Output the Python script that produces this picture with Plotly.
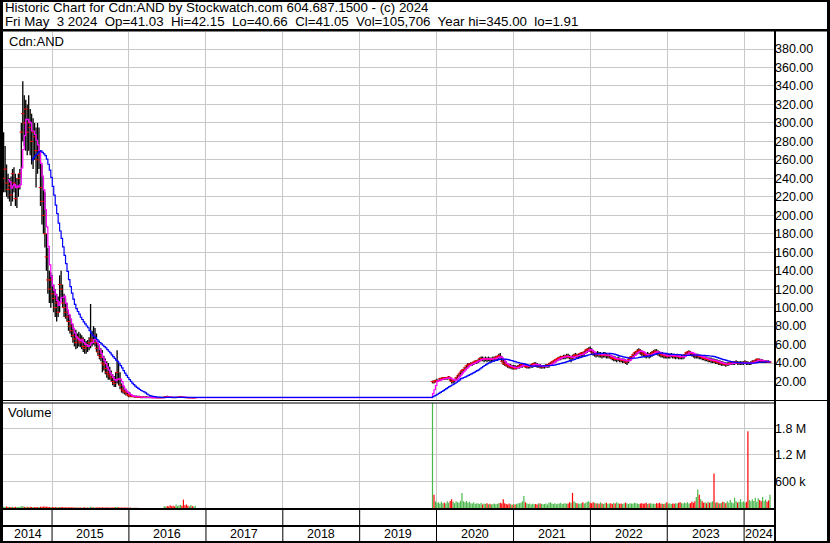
import plotly.graph_objects as go
import pandas as pd

# ---------------- data (weekly bars) ----------------
old_start = "2014-05-16"
new_start = "2019-12-13"

old_high = [290, 275, 255, 245, 240, 242, 250, 252, 245, 240,
            245, 250, 300, 345, 330, 325, 320, 330, 315, 310,
            305, 300, 295, 300, 295, 270, 255, 240, 225, 180,
            165, 140, 138, 135, 125, 120, 115, 112, 135, 140,
            125, 115, 110, 105, 95, 92, 88, 82, 78, 76,
            72, 74, 72, 70, 68, 66, 64, 65, 68, 104,
            75, 80, 78, 72, 62, 58, 56, 54, 48, 45,
            42, 40, 36, 32, 28, 26, 30, 54, 40, 30,
            18, 16, 14, 12, 10, 9, 8, 6, 5, 5,
            5, 4.5, 4.5, 4, 4, 4, 4, 4, 3.8, 3.8,
            3.5, 3.5, 3.5, 3.5, 3.5, 3.4, 3.4, 3.4, 3.4, 3.6,
            4, 4.5, 4, 3.8, 3.6, 3.5, 3.5, 3.5, 3.6, 3.8,
            4, 3.8, 3.6, 3.5, 3.4, 3.3, 3.2, 3.2, 3.1, 3.0, 3.0]
old_low = [225, 225, 220, 218, 215, 210, 215, 225, 210, 208,
           220, 228, 240, 280, 275, 270, 265, 270, 265, 255,
           250, 260, 230, 245, 250, 210, 190, 180, 165, 140,
           115, 105, 100, 105, 95, 90, 85, 90, 95, 110,
           100, 90, 88, 85, 75, 72, 68, 62, 58, 55,
           56, 58, 57, 55, 52, 50, 50, 52, 54, 56,
           58, 60, 58, 52, 48, 44, 42, 30, 32, 28,
           24, 22, 22, 20, 16, 14, 14, 18, 16, 12,
           8, 7, 6, 5, 4, 3, 3, 3, 3, 2.5,
           2.5, 2.5, 2.5, 2, 2, 2, 2, 2, 2, 2,
           2, 2, 2, 2, 2, 1.9, 1.9, 1.9, 1.9, 2,
           2.2, 2.4, 2.2, 2.1, 2, 2, 2, 2, 2.1, 2.2,
           2.3, 2.2, 2.1, 2, 2, 2, 2, 1.9, 1.9, 1.9, 1.91]
old_close = [240, 250, 235, 228, 232, 222, 245, 235, 218, 230,
             240, 245, 290, 310, 300, 315, 290, 300, 295, 280,
             290, 285, 270, 260, 265, 230, 215, 200, 180, 155,
             130, 120, 130, 115, 110, 100, 105, 95, 125, 120,
             105, 100, 95, 90, 85, 80, 75, 70, 66, 62,
             68, 64, 62, 66, 58, 56, 60, 58, 62, 66,
             64, 70, 62, 56, 52, 48, 46, 40, 38, 34,
             30, 28, 26, 24, 20, 18, 22, 30, 22, 16,
             12, 10, 9, 8, 6, 5, 4, 4, 4, 3.5,
             3.5, 3, 3, 3, 3, 2.8, 2.8, 2.8, 2.7, 2.7,
             2.6, 2.6, 2.6, 2.6, 2.5, 2.5, 2.5, 2.5, 2.6, 3,
             3.4, 3.2, 3, 2.9, 2.8, 2.7, 2.6, 2.7, 2.9, 3.1,
             3.3, 3, 2.8, 2.7, 2.6, 2.5, 2.5, 2.5, 2.4, 2.4, 2.4]
old_vol = [30000, 25000, 35000, 20000, 28000, 22000, 30000, 18000, 25000, 20000,
           22000, 30000, 40000, 38000, 30000, 25000, 28000, 22000, 26000, 20000,
           24000, 18000, 22000, 20000, 25000, 30000, 28000, 32000, 35000, 30000,
           28000, 25000, 20000, 22000, 18000, 20000, 16000, 18000, 25000, 20000,
           18000, 16000, 15000, 18000, 14000, 16000, 15000, 18000, 14000, 12000,
           15000, 13000, 12000, 14000, 12000, 15000, 13000, 12000, 14000, 30000,
           18000, 16000, 14000, 12000, 15000, 13000, 12000, 18000, 14000, 12000,
           15000, 13000, 12000, 14000, 12000, 15000, 20000, 28000, 16000, 14000,
           12000, 10000, 12000, 9000, 10000, 8000, 9000, 6000, 5000, 5000,
           4000, 4000, 3000, 3000, 3000, 3000, 2000, 2000, 2000, 2000,
           2000, 2000, 2000, 2000, 2000, 2000, 2000, 2000, 2000, 40000,
           30000, 45000, 35000, 60000, 40000, 50000, 35000, 80000, 45000, 60000,
           70000, 50000, 190000, 60000, 80000, 50000, 40000, 70000, 45000, 30000, 50000]

new_high = [21, 21, 22, 23, 22, 24, 24, 25, 25, 25,
            25, 26, 25, 24, 22, 23, 25, 27, 29, 31,
            33, 34, 36, 38, 40, 40, 41, 41, 42, 43,
            43, 44, 46, 47, 47, 46, 47, 46, 47, 46,
            46, 47, 47, 48, 48, 50, 51, 48, 45, 44,
            42, 40, 39, 39, 38, 38, 38, 37, 38, 39,
            39, 40, 40, 39, 39, 38, 38, 39, 40, 41,
            41, 40, 39, 39, 38, 38, 38, 39, 39, 40,
            41, 42, 43, 44, 45, 46, 47, 48, 48, 49,
            49, 50, 50, 49, 48, 49, 50, 51, 50, 50,
            51, 52, 52, 53, 55, 56, 57, 58, 56, 54,
            53, 52, 53, 52, 52, 51, 52, 52, 51, 50,
            50, 49, 48, 48, 47, 46, 47, 46, 45, 45,
            45, 44, 43, 45, 47, 48, 50, 52, 53, 55,
            56, 55, 54, 53, 52, 51, 52, 51, 52, 53,
            54, 55, 55, 54, 53, 52, 52, 51, 51, 50,
            50, 50, 51, 50, 50, 49, 50, 49, 48, 49,
            49, 50, 52, 53, 54, 53, 52, 51, 50, 50,
            50, 49, 49, 48, 48, 47, 47, 46, 46, 46,
            45, 45, 44, 44, 43, 43, 42, 42, 41, 41,
            41, 41, 42, 42, 42, 42, 43, 42, 42, 42,
            42, 42, 43, 42, 42, 41, 42, 43, 43, 44,
            45, 45, 45, 44, 44, 43, 43, 43, 43, 42.15]
new_low = [18, 18, 19, 20, 20, 21, 21, 22, 22, 22,
           22, 23, 20, 18, 18, 19, 21, 23, 25, 27,
           28, 30, 32, 34, 35, 36, 37, 37, 38, 39,
           39, 40, 41, 42, 42, 41, 42, 41, 42, 41,
           41, 42, 42, 43, 43, 44, 45, 41, 38, 37,
           36, 35, 34, 34, 33, 33, 33, 33, 34, 34,
           35, 35, 36, 35, 34, 34, 34, 35, 35, 36,
           36, 35, 35, 34, 34, 34, 34, 35, 35, 35,
           37, 38, 39, 40, 41, 42, 43, 43, 44, 44,
           44, 45, 45, 44, 41, 44, 45, 46, 45, 45,
           46, 47, 47, 48, 50, 51, 52, 52, 50, 48,
           47, 46, 47, 46, 46, 45, 46, 46, 45, 45,
           45, 44, 43, 42, 42, 41, 42, 41, 41, 40,
           40, 39, 38, 40, 42, 44, 46, 47, 48, 50,
           50, 49, 48, 47, 46, 45, 46, 45, 46, 47,
           48, 49, 49, 48, 47, 46, 46, 45, 45, 45,
           45, 45, 46, 45, 45, 44, 45, 44, 44, 44,
           44, 45, 47, 48, 49, 48, 47, 46, 45, 45,
           45, 44, 44, 43, 43, 42, 42, 41, 41, 40,
           40, 40, 39, 39, 38, 38, 37, 37, 37, 36,
           37, 37, 38, 38, 38, 38, 39, 38, 38, 38,
           38, 38, 39, 38, 38, 38, 38, 39, 39, 40,
           41, 41, 41, 40, 40, 40, 40, 40, 40, 40.66]
new_close = [20, 19.5, 21, 21, 21, 23, 23, 24, 23, 24,
             24, 25, 22, 20, 21, 22, 24, 26, 28, 30,
             32, 33, 35, 37, 38, 39, 39, 40, 41, 42,
             42, 43, 45, 45, 44, 44, 45, 44, 45, 44,
             44, 45, 45, 46, 47, 48, 46, 42, 40, 39,
             38, 37, 36, 36, 35, 35, 34, 35, 36, 37,
             38, 38, 38.5, 36, 36, 36, 37, 38, 39, 39,
             38, 37, 37, 36, 36, 36, 37, 37, 38, 38,
             40, 41, 42, 43, 44, 45, 46, 46, 47, 47,
             47, 48, 47, 46, 46, 45.5, 48, 49, 48, 48,
             50, 51, 50, 52, 54, 55, 55, 54, 52, 50,
             50, 49, 50, 49, 49, 48, 49, 49, 48, 48,
             48, 46, 45, 45, 44, 44, 45, 44, 43, 43,
             43, 41, 42, 44, 46, 47, 49, 51, 52, 53,
             54, 53, 51, 50, 49, 48, 49, 48, 50, 51,
             52, 53, 52, 51, 50, 49, 49, 48, 48, 47,
             48, 48, 49, 48, 47, 47, 48, 47, 46, 47,
             47, 49, 51, 52, 52, 51, 50, 49, 48, 48,
             48, 47, 47, 46, 45, 45, 44, 44, 43, 43,
             43, 42, 42, 41, 41, 40, 40, 39, 39, 38,
             39, 39, 40, 40, 40, 41, 41, 40, 40, 40,
             40, 40, 41, 40, 39.5, 40, 40, 41, 42, 42,
             44, 44, 43, 42, 42, 42, 42, 41, 40.8, 41.05]
new_vol = [2600000, 300000, 150000, 120000, 130000, 100000, 140000, 110000, 120000, 100000,
           150000, 120000, 160000, 200000, 140000, 110000, 150000, 130000, 120000, 160000,
           340000, 150000, 130000, 160000, 120000, 140000, 110000, 100000, 130000, 90000,
           110000, 100000, 90000, 120000, 80000, 100000, 90000, 110000, 85000, 95000,
           80000, 90000, 100000, 85000, 95000, 110000, 120000, 100000, 200000, 110000,
           90000, 80000, 100000, 85000, 75000, 90000, 80000, 95000, 100000, 110000,
           120000, 150000, 270000, 130000, 110000, 90000, 100000, 80000, 95000, 85000,
           90000, 80000, 110000, 100000, 95000, 85000, 90000, 100000, 80000, 120000,
           130000, 100000, 90000, 110000, 85000, 95000, 100000, 120000, 90000, 100000,
           110000, 95000, 100000, 130000, 120000, 340000, 150000, 120000, 110000, 100000,
           95000, 110000, 130000, 100000, 120000, 140000, 150000, 120000, 110000, 130000,
           120000, 100000, 110000, 95000, 130000, 100000, 90000, 110000, 120000, 95000,
           100000, 110000, 90000, 120000, 100000, 130000, 110000, 95000, 100000, 90000,
           110000, 120000, 100000, 90000, 110000, 100000, 95000, 120000, 110000, 100000,
           90000, 100000, 110000, 95000, 100000, 120000, 90000, 100000, 110000, 95000,
           100000, 90000, 110000, 100000, 120000, 95000, 100000, 90000, 110000, 130000,
           100000, 110000, 90000, 100000, 95000, 110000, 100000, 120000, 130000, 110000,
           100000, 120000, 110000, 130000, 100000, 110000, 140000, 120000, 150000, 250000,
           420000, 300000, 200000, 150000, 120000, 130000, 110000, 140000, 120000, 130000,
           150000, 780000, 120000, 130000, 110000, 100000, 120000, 140000, 130000, 110000,
           150000, 120000, 180000, 130000, 110000, 230000, 150000, 120000, 140000, 200000,
           130000, 150000, 120000, 140000, 1730000, 180000, 150000, 200000, 160000, 230000,
           140000, 220000, 180000, 150000, 250000, 160000, 190000, 140000, 170000, 300000]

price_ticks = list(range(20, 400, 20))
vol_ticks = [600000, 1200000, 1800000]
vol_tick_text = ["600 k", "1.2 M", "1.8 M"]
years = list(range(2014, 2025))

header1 = "Historic Chart for Cdn:AND by Stockwatch.com 604.687.1500 - (c) 2024"
header2 = ("Fri May\u00a0 3 2024\u00a0 Op=41.03\u00a0 Hi=42.15\u00a0 Lo=40.66\u00a0 "
           "Cl=41.05\u00a0 Vol=105,706\u00a0 Year hi=345.00\u00a0 lo=1.91")

# ---------------- derived ----------------
dates = pd.date_range(old_start, periods=len(old_close), freq="7D").append(
    pd.date_range(new_start, periods=len(new_close), freq="7D"))
high = old_high + new_high
low = old_low + new_low
close = old_close + new_close
vol = old_vol + new_vol
cs = pd.Series(close)
ma_fast = cs.rolling(4).mean()
ma_slow = cs.rolling(20).mean()

bx, by = [], []
for d, h, l in zip(dates, high, low):
    bx += [d, d, None]
    by += [l, h, None]

gx, gy, rx, ry = [], [], [], []
for i, (d, v) in enumerate(zip(dates, vol)):
    up = i == 0 or close[i] >= close[i - 1]
    if up:
        gx += [d, d, None]; gy += [0, v, None]
    else:
        rx += [d, d, None]; ry += [0, v, None]

W, H = 830, 543
FONT = "Liberation Sans, Arial, sans-serif"
X0, X1 = 3, 774
x_range = ["2014-05-13", "2024-05-22"]


def py(p):
    return 1 - p / H


def px(p):
    return p / W


fig = go.Figure()
fig.add_trace(go.Scatter(x=bx, y=by, mode="lines", line=dict(color="black", width=1.3),
                         hoverinfo="skip", xaxis="x", yaxis="y"))
fig.add_trace(go.Scatter(x=list(dates), y=close, mode="markers",
                         marker=dict(symbol="line-ew", size=2.5, line=dict(color="#ff0000", width=1)),
                         hoverinfo="skip", xaxis="x", yaxis="y"))
fig.add_trace(go.Scatter(x=list(dates), y=ma_fast, mode="lines", line_shape="hv",
                         line=dict(color="#ff00ff", width=1.2), xaxis="x", yaxis="y"))
fig.add_trace(go.Scatter(x=list(dates), y=ma_slow, mode="lines", line_shape="hv",
                         line=dict(color="#0000ff", width=1.2), xaxis="x", yaxis="y"))
fig.add_trace(go.Scatter(x=gx, y=gy, mode="lines", line=dict(color="#4cb84c", width=1.2),
                         xaxis="x2", yaxis="y2"))
fig.add_trace(go.Scatter(x=rx, y=ry, mode="lines", line=dict(color="#ff0000", width=1.2),
                         xaxis="x2", yaxis="y2"))

grid = "#c8c8c8"
xcommon = dict(type="date", range=x_range, domain=[px(X0), px(X1)], showgrid=True,
               gridcolor=grid, gridwidth=1, dtick="M12", tick0="2015-01-01",
               showticklabels=False, ticks="", zeroline=False, showline=False)
fig.update_layout(
    width=W, height=H, margin=dict(l=0, r=0, t=0, b=0),
    paper_bgcolor="white", plot_bgcolor="white", showlegend=False,
    hovermode=False,
    font=dict(family=FONT, size=12, color="black"),
    xaxis=dict(anchor="y", **xcommon),
    xaxis2=dict(anchor="y2", matches="x", **xcommon),
    yaxis=dict(domain=[py(400), py(31.5)], range=[0, 399], side="right", anchor="x",
               tickvals=price_ticks, ticktext=["%.2f" % v for v in price_ticks],
               showgrid=True, gridcolor=grid, zeroline=False, ticks="",
               tickfont=dict(family=FONT, size=12.5, color="black")),
    yaxis2=dict(domain=[py(508), py(403)], range=[0, 2370000], side="right", anchor="x2",
                tickvals=vol_ticks, ticktext=vol_tick_text, showgrid=True, gridcolor=grid,
                zeroline=False, ticks="", tickfont=dict(family=FONT, size=12.5, color="black")),
)

shapes = []


def rect(x0, y0, x1, y1):
    shapes.append(dict(type="rect", xref="paper", yref="paper", x0=px(x0), x1=px(x1),
                       y0=py(y1), y1=py(y0), fillcolor="black", line=dict(width=0), layer="above"))


rect(0, 0, 830, 2)          # top border
rect(0, 0, 3, 543)          # left border
rect(827, 0, 830, 543)      # right border
rect(0, 541, 830, 543)      # bottom border
rect(0, 29, 830, 31.5)      # header separator
rect(774, 31, 776, 543)     # axis divider
rect(0, 400, 830, 401)      # pane separator
rect(0, 402.5, 774, 403.5)
rect(0, 508, 774, 510)      # volume bottom
rect(0, 525, 774, 527)      # year row top

tmin, tmax = pd.Timestamp(x_range[0]), pd.Timestamp(x_range[1])
annotations = []
for y in years:
    a = max(pd.Timestamp(f"{y}-01-01"), tmin)
    b = min(pd.Timestamp(f"{y + 1}-01-01"), tmax)
    annotations.append(dict(x=a + (b - a) / 2, y=py(534), xref="x", yref="paper", text=str(y),
                            showarrow=False, xanchor="center", yanchor="middle",
                            font=dict(family=FONT, size=12.5, color="black")))
    if y > 2014:
        shapes.append(dict(type="line", xref="x", yref="paper", x0=f"{y}-01-01", x1=f"{y}-01-01",
                           y0=py(541), y1=py(510), line=dict(color="black", width=1)))

annotations += [
    dict(x=px(3), y=py(8), xref="paper", yref="paper", text=header1, showarrow=False,
         xanchor="left", yanchor="middle", font=dict(family=FONT, size=13.3)),
    dict(x=px(3), y=py(21.5), xref="paper", yref="paper", text=header2, showarrow=False,
         xanchor="left", yanchor="middle", font=dict(family=FONT, size=13.3)),
    dict(x=px(7), y=py(41.5), xref="paper", yref="paper", text="Cdn:AND", showarrow=False,
         xanchor="left", yanchor="middle", font=dict(family=FONT, size=13)),
    dict(x=px(6), y=py(413), xref="paper", yref="paper", text="Volume", showarrow=False,
         xanchor="left", yanchor="middle", font=dict(family=FONT, size=13)),
]
fig.update_layout(shapes=shapes, annotations=annotations)
fig.write_html("out.html", config={"displayModeBar": False, "staticPlot": True},
               post_script="document.body.style.margin='0';document.body.style.overflow='hidden';")
